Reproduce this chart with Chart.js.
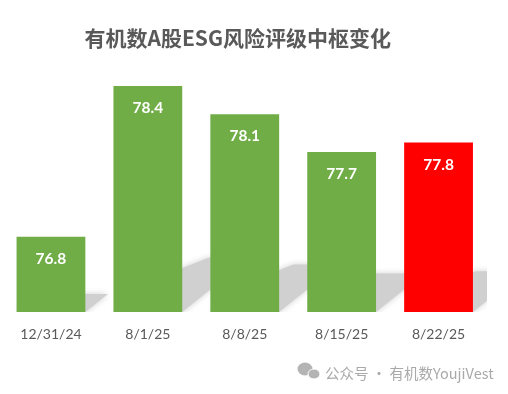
<!DOCTYPE html>
<html lang="zh">
<head>
  <meta charset="UTF-8">
  <title>有机数A股ESG风险评级中枢变化</title>
  <style>
    html, body { margin: 0; padding: 0; background: #fff; overflow: hidden; }
    canvas { display: block; }
  </style>
  <script src="https://cdn.jsdelivr.net/npm/chart.js"></script>
</head>
<body>
  <canvas id="esgChart" width="508" height="394"></canvas>
  <script>
    const titleText = '有机数A股ESG风险评级中枢变化';
    const dates = ['12/31/24', '8/1/25', '8/8/25', '8/15/25', '8/22/25'];
    const centerValues = [76.8, 78.4, 78.1, 77.7, 77.8];
    const barColors = ['#70ad47', '#70ad47', '#70ad47', '#70ad47', '#ff0000'];
    const watermarkText = '公众号 · 有机数YoujiVest';

    // 柱子后面的灰色投影，高度随柱高变化
    const barShadow = {
      id: 'barShadow',
      beforeDatasetsDraw(chart) {
        const ctx = chart.ctx, area = chart.chartArea;
        const halfWidth = chart.scales.x.width / dates.length * 0.71 / 2;
        ctx.save();
        ctx.beginPath();
        ctx.rect(0, 0, area.right, area.bottom);
        ctx.clip();
        ctx.fillStyle = '#d0d0d0';
        ctx.shadowColor = '#d0d0d0';
        ctx.shadowBlur = 6;
        centerValues.forEach((v, i) => {
          const x = chart.scales.x.getPixelForValue(i);
          const base = area.bottom;
          const dy = (base - chart.scales.y.getPixelForValue(v)) * 0.24, dx = dy * 1.25;
          ctx.beginPath();
          ctx.moveTo(x - halfWidth, base);
          ctx.lineTo(x + halfWidth, base);
          ctx.lineTo(x + halfWidth + dx, base - dy);
          ctx.lineTo(x - halfWidth + dx * 1.4, base - dy);
          ctx.lineTo(x - halfWidth + dx, base - dy * 0.8);
          ctx.closePath();
          ctx.fill();
        });
        ctx.restore();
      }
    };

    // 柱内数值标签和右下角水印
    const barLabels = {
      id: 'barLabels',
      afterLayout(chart) {
        // 标题在原图中略偏左
        chart.titleBlock.left -= 7;
        chart.titleBlock.right -= 7;
      },
      afterDatasetsDraw(chart) {
        const ctx = chart.ctx;
        ctx.save();
        ctx.textAlign = 'center';
        ctx.textBaseline = 'middle';
        ctx.fillStyle = '#ffffff';
        ctx.font = 'bold 15.5px Lato';
        chart.getDatasetMeta(0).data.forEach((bar, i) => {
          ctx.fillText(centerValues[i].toFixed(1), bar.x, bar.y + 22);
        });
        ctx.textAlign = 'left';
        ctx.fillStyle = '#a9a9a9';
        ctx.font = '14.5px "Noto Sans CJK SC"';
        ctx.fillText(watermarkText, 325, 373);
        // 微信图标
        ctx.fillStyle = '#b4b4b4';
        ctx.beginPath();
        ctx.ellipse(305, 369, 7.5, 6.5, 0, 0, Math.PI * 2);
        ctx.fill();
        ctx.strokeStyle = '#ffffff';
        ctx.lineWidth = 1;
        ctx.beginPath();
        ctx.ellipse(314, 374, 6, 5, 0, 0, Math.PI * 2);
        ctx.fill();
        ctx.stroke();
        ctx.restore();
      }
    };

    new Chart(document.getElementById('esgChart'), {
      type: 'bar',
      data: {
        labels: dates,
        datasets: [{
          data: centerValues,
          backgroundColor: barColors,
          barPercentage: 1,
          categoryPercentage: 0.71
        }]
      },
      options: {
        responsive: false,
        animation: false,
        layout: { padding: { left: 2.5, right: 21, top: 0, bottom: 0 } },
        scales: {
          x: {
            grid: { display: false },
            border: { display: false },
            ticks: {
              color: '#595959',
              font: { family: 'Lato', size: 14 },
              padding: 6,
              maxRotation: 0
            },
            afterFit(scale) { scale.height = 82; }
          },
          y: { display: false, min: 76, max: 78.5 }
        },
        plugins: {
          legend: { display: false },
          tooltip: { enabled: false },
          title: {
            display: true,
            text: titleText,
            color: '#595959',
            font: { family: '"Noto Sans CJK SC"', size: 21, weight: 'bold', lineHeight: 1.2 },
            padding: { top: 25, bottom: 26.4 }
          }
        }
      },
      plugins: [barShadow, barLabels]
    });
  </script>
</body>
</html>
